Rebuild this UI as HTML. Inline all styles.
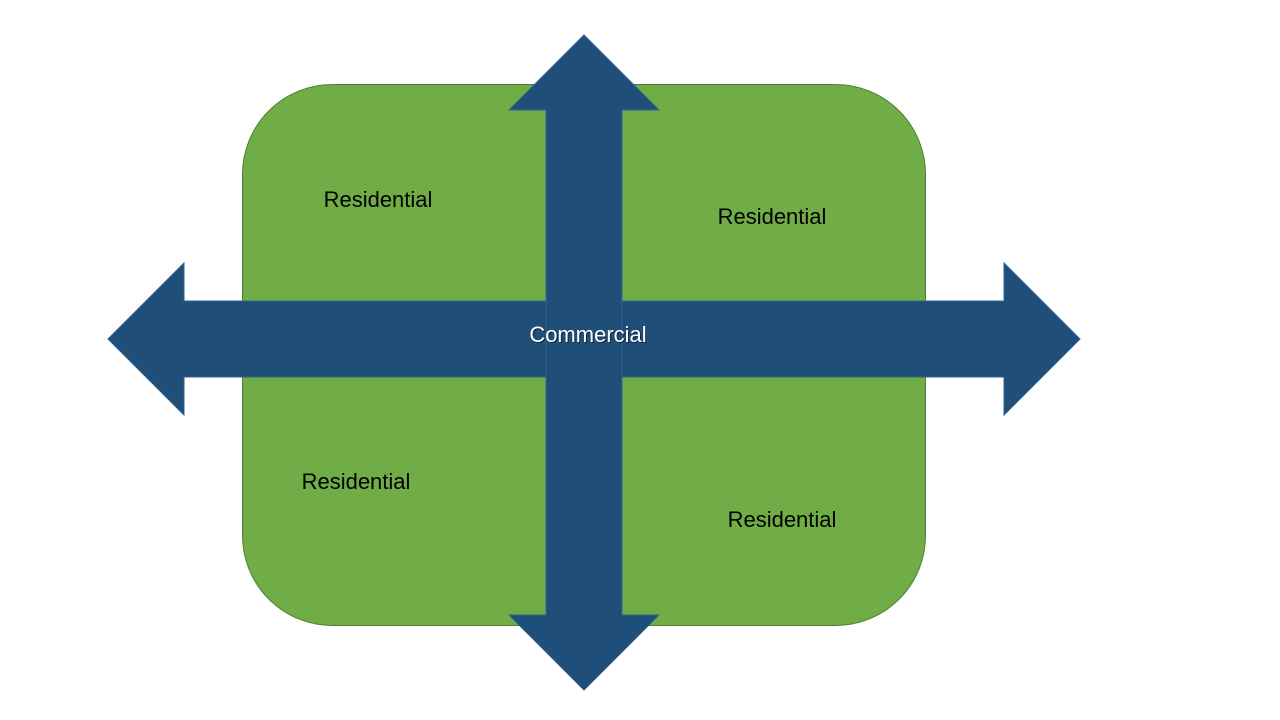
<!DOCTYPE html>
<html><head><meta charset="utf-8"><style>
html,body{margin:0;padding:0;background:#fff;width:1280px;height:720px;overflow:hidden}
svg{display:block}
text{font-family:"Liberation Sans",sans-serif;font-size:22px}
</style></head><body>
<svg width="1280" height="720" viewBox="0 0 1280 720">
<rect x="242.5" y="84.5" width="683" height="541" rx="90" ry="90" fill="#70ad47" stroke="#507e32" stroke-width="1"/>
<polygon points="108,339 184,263 184,301 1004,301 1004,263 1080,339 1004,415 1004,377 184,377 184,415" fill="#1f4e79" stroke="#2e6197" stroke-width="1"/>
<polygon points="584,35 659,110 622,110 622,615 659,615 584,690 509,615 546,615 546,110 509,110" fill="#1f4e79" stroke="#2e6197" stroke-width="1"/>
<text x="378" y="207" text-anchor="middle" fill="#000">Residential</text>
<text x="772" y="224" text-anchor="middle" fill="#000">Residential</text>
<text x="356" y="489" text-anchor="middle" fill="#000">Residential</text>
<text x="782" y="527" text-anchor="middle" fill="#000">Residential</text>
<text x="589" y="343" text-anchor="middle" fill="#000" opacity="0.5">Commercial</text>
<text x="588" y="342" text-anchor="middle" fill="#fff">Commercial</text>
</svg>
</body></html>
